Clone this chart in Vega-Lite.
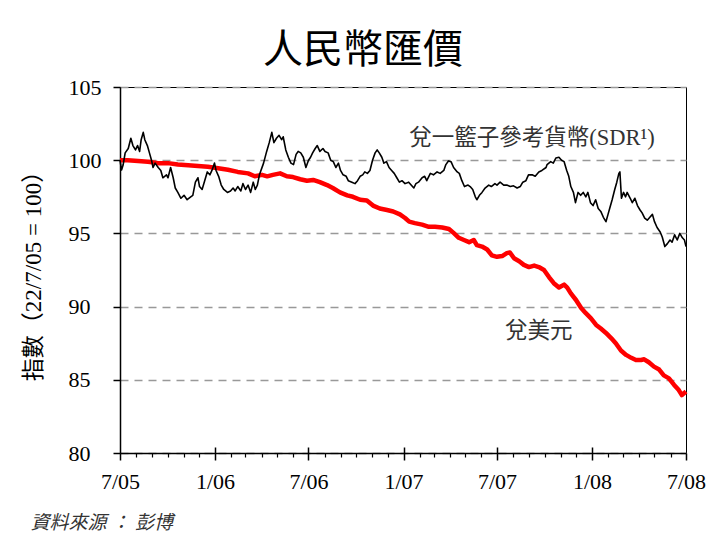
{
  "$schema": "https://vega.github.io/schema/vega-lite/v6.json",
  "autosize": {"type": "none"},
  "padding": {"left": 120, "top": 87, "right": 25, "bottom": 82},
  "width": 566,
  "height": 366,
  "background": "white",
  "title": {"text": "人民幣匯價", "font": "Noto Sans CJK TC", "fontSize": 40, "fontWeight": "normal", "color": "black", "anchor": "middle", "dx": -40, "offset": 5},
  "datasets": {
    "usd": [
      {"d":"2005-07-22","v":100.0},{"d":"2005-08-06","v":100.0},{"d":"2005-08-26","v":99.95},{"d":"2005-09-14","v":99.9},{"d":"2005-10-04","v":99.8},{"d":"2005-10-23","v":99.8},{"d":"2005-11-11","v":99.7},{"d":"2005-12-01","v":99.65},{"d":"2005-12-20","v":99.6},{"d":"2006-01-08","v":99.55},{"d":"2006-01-28","v":99.45},{"d":"2006-02-16","v":99.35},{"d":"2006-03-07","v":99.2},{"d":"2006-03-27","v":99.1},{"d":"2006-04-09","v":98.9},{"d":"2006-04-23","v":99.0},{"d":"2006-05-03","v":98.9},{"d":"2006-05-14","v":99.0},{"d":"2006-05-28","v":99.1},{"d":"2006-06-10","v":98.9},{"d":"2006-06-22","v":98.85},{"d":"2006-07-06","v":98.7},{"d":"2006-07-19","v":98.6},{"d":"2006-07-31","v":98.65},{"d":"2006-08-13","v":98.5},{"d":"2006-08-27","v":98.3},{"d":"2006-09-07","v":98.1},{"d":"2006-09-21","v":97.8},{"d":"2006-10-05","v":97.6},{"d":"2006-10-16","v":97.5},{"d":"2006-10-30","v":97.3},{"d":"2006-11-12","v":97.25},{"d":"2006-11-24","v":96.9},{"d":"2006-12-07","v":96.7},{"d":"2006-12-21","v":96.6},{"d":"2007-01-02","v":96.5},{"d":"2007-01-15","v":96.3},{"d":"2007-01-25","v":96.05},{"d":"2007-02-02","v":95.8},{"d":"2007-02-13","v":95.7},{"d":"2007-02-27","v":95.6},{"d":"2007-03-12","v":95.45},{"d":"2007-03-24","v":95.45},{"d":"2007-04-07","v":95.4},{"d":"2007-04-20","v":95.3},{"d":"2007-04-30","v":95.0},{"d":"2007-05-09","v":94.7},{"d":"2007-05-19","v":94.55},{"d":"2007-05-29","v":94.4},{"d":"2007-06-07","v":94.55},{"d":"2007-06-13","v":94.2},{"d":"2007-06-23","v":94.1},{"d":"2007-07-03","v":93.9},{"d":"2007-07-12","v":93.5},{"d":"2007-07-22","v":93.4},{"d":"2007-08-01","v":93.45},{"d":"2007-08-10","v":93.65},{"d":"2007-08-16","v":93.7},{"d":"2007-08-24","v":93.3},{"d":"2007-09-03","v":93.1},{"d":"2007-09-12","v":92.85},{"d":"2007-09-22","v":92.7},{"d":"2007-10-02","v":92.8},{"d":"2007-10-11","v":92.7},{"d":"2007-10-21","v":92.5},{"d":"2007-10-31","v":92.0},{"d":"2007-11-09","v":91.6},{"d":"2007-11-19","v":91.3},{"d":"2007-11-29","v":91.5},{"d":"2007-12-05","v":91.3},{"d":"2007-12-12","v":90.9},{"d":"2007-12-22","v":90.45},{"d":"2008-01-01","v":89.9},{"d":"2008-01-10","v":89.55},{"d":"2008-01-20","v":89.2},{"d":"2008-01-30","v":88.75},{"d":"2008-02-08","v":88.5},{"d":"2008-02-18","v":88.2},{"d":"2008-02-28","v":87.85},{"d":"2008-03-08","v":87.5},{"d":"2008-03-18","v":87.0},{"d":"2008-03-28","v":86.7},{"d":"2008-04-07","v":86.5},{"d":"2008-04-16","v":86.35},{"d":"2008-04-26","v":86.35},{"d":"2008-05-02","v":86.4},{"d":"2008-05-11","v":86.2},{"d":"2008-05-21","v":85.9},{"d":"2008-05-31","v":85.7},{"d":"2008-06-09","v":85.3},{"d":"2008-06-19","v":85.1},{"d":"2008-06-29","v":84.65},{"d":"2008-07-08","v":84.3},{"d":"2008-07-14","v":83.95},{"d":"2008-07-22","v":84.2}
    ],
    "sdr": [
      {"d":"2005-07-22","v":100.0},{"d":"2005-07-25","v":99.33},{"d":"2005-07-28","v":99.67},{"d":"2005-08-01","v":100.5},{"d":"2005-08-07","v":100.8},{"d":"2005-08-12","v":101.5},{"d":"2005-08-16","v":101.0},{"d":"2005-08-21","v":100.7},{"d":"2005-08-25","v":101.0},{"d":"2005-08-29","v":100.6},{"d":"2005-09-01","v":101.4},{"d":"2005-09-05","v":101.9},{"d":"2005-09-08","v":101.4},{"d":"2005-09-13","v":101.0},{"d":"2005-09-17","v":100.5},{"d":"2005-09-21","v":100.0},{"d":"2005-09-24","v":99.5},{"d":"2005-09-28","v":99.8},{"d":"2005-10-04","v":99.5},{"d":"2005-10-09","v":99.3},{"d":"2005-10-13","v":98.8},{"d":"2005-10-20","v":99.0},{"d":"2005-10-23","v":98.8},{"d":"2005-10-28","v":99.5},{"d":"2005-11-02","v":98.8},{"d":"2005-11-06","v":98.1},{"d":"2005-11-11","v":97.8},{"d":"2005-11-17","v":97.4},{"d":"2005-11-23","v":97.6},{"d":"2005-11-29","v":97.3},{"d":"2005-12-06","v":97.5},{"d":"2005-12-10","v":97.6},{"d":"2005-12-15","v":98.5},{"d":"2005-12-20","v":98.8},{"d":"2005-12-23","v":98.2},{"d":"2005-12-28","v":98.0},{"d":"2006-01-02","v":98.6},{"d":"2006-01-07","v":99.2},{"d":"2006-01-12","v":99.0},{"d":"2006-01-16","v":99.3},{"d":"2006-01-21","v":99.8},{"d":"2006-01-24","v":99.3},{"d":"2006-01-29","v":98.9},{"d":"2006-02-03","v":98.3},{"d":"2006-02-08","v":98.0},{"d":"2006-02-15","v":97.8},{"d":"2006-02-21","v":97.9},{"d":"2006-02-26","v":98.1},{"d":"2006-03-02","v":97.9},{"d":"2006-03-07","v":98.2},{"d":"2006-03-13","v":97.9},{"d":"2006-03-17","v":98.4},{"d":"2006-03-22","v":98.0},{"d":"2006-03-27","v":98.3},{"d":"2006-04-01","v":97.8},{"d":"2006-04-06","v":98.5},{"d":"2006-04-10","v":98.0},{"d":"2006-04-14","v":98.3},{"d":"2006-04-18","v":99.0},{"d":"2006-04-26","v":99.8},{"d":"2006-05-02","v":100.6},{"d":"2006-05-07","v":101.2},{"d":"2006-05-12","v":101.9},{"d":"2006-05-16","v":101.2},{"d":"2006-05-21","v":101.5},{"d":"2006-05-26","v":101.7},{"d":"2006-05-31","v":101.4},{"d":"2006-06-03","v":101.6},{"d":"2006-06-08","v":100.7},{"d":"2006-06-13","v":100.2},{"d":"2006-06-18","v":99.8},{"d":"2006-06-23","v":99.7},{"d":"2006-06-28","v":100.4},{"d":"2006-07-02","v":100.6},{"d":"2006-07-07","v":100.5},{"d":"2006-07-12","v":100.2},{"d":"2006-07-17","v":99.5},{"d":"2006-07-22","v":100.0},{"d":"2006-07-26","v":100.2},{"d":"2006-07-30","v":100.5},{"d":"2006-08-04","v":100.8},{"d":"2006-08-08","v":101.0},{"d":"2006-08-13","v":100.6},{"d":"2006-08-19","v":100.8},{"d":"2006-08-23","v":100.6},{"d":"2006-08-29","v":100.5},{"d":"2006-09-03","v":100.0},{"d":"2006-09-08","v":99.9},{"d":"2006-09-13","v":99.5},{"d":"2006-09-18","v":99.8},{"d":"2006-09-22","v":99.3},{"d":"2006-09-27","v":99.0},{"d":"2006-10-03","v":98.9},{"d":"2006-10-07","v":98.6},{"d":"2006-10-14","v":98.5},{"d":"2006-10-20","v":98.4},{"d":"2006-10-25","v":98.6},{"d":"2006-10-30","v":98.9},{"d":"2006-11-04","v":99.0},{"d":"2006-11-08","v":99.2},{"d":"2006-11-13","v":99.1},{"d":"2006-11-18","v":99.3},{"d":"2006-11-23","v":100.0},{"d":"2006-11-28","v":100.5},{"d":"2006-12-02","v":100.7},{"d":"2006-12-06","v":100.5},{"d":"2006-12-11","v":100.2},{"d":"2006-12-15","v":99.8},{"d":"2006-12-20","v":99.9},{"d":"2006-12-25","v":99.5},{"d":"2006-12-30","v":99.3},{"d":"2007-01-04","v":99.1},{"d":"2007-01-09","v":98.8},{"d":"2007-01-14","v":98.5},{"d":"2007-01-19","v":98.6},{"d":"2007-01-25","v":98.4},{"d":"2007-02-01","v":98.5},{"d":"2007-02-11","v":98.1},{"d":"2007-02-15","v":98.4},{"d":"2007-02-20","v":98.5},{"d":"2007-02-27","v":98.8},{"d":"2007-03-04","v":98.9},{"d":"2007-03-08","v":98.6},{"d":"2007-03-15","v":99.1},{"d":"2007-03-21","v":99.0},{"d":"2007-03-28","v":99.2},{"d":"2007-04-03","v":99.1},{"d":"2007-04-10","v":99.3},{"d":"2007-04-14","v":99.7},{"d":"2007-04-19","v":99.95},{"d":"2007-04-24","v":99.9},{"d":"2007-04-29","v":99.5},{"d":"2007-05-06","v":99.2},{"d":"2007-05-10","v":99.1},{"d":"2007-05-15","v":98.6},{"d":"2007-05-20","v":98.2},{"d":"2007-05-27","v":98.3},{"d":"2007-05-31","v":98.2},{"d":"2007-06-05","v":98.0},{"d":"2007-06-10","v":97.5},{"d":"2007-06-13","v":97.3},{"d":"2007-06-18","v":97.6},{"d":"2007-06-23","v":97.8},{"d":"2007-06-29","v":98.1},{"d":"2007-07-06","v":98.3},{"d":"2007-07-11","v":98.2},{"d":"2007-07-18","v":98.4},{"d":"2007-07-22","v":98.3},{"d":"2007-07-28","v":98.5},{"d":"2007-08-04","v":98.3},{"d":"2007-08-10","v":98.3},{"d":"2007-08-17","v":98.2},{"d":"2007-08-23","v":98.25},{"d":"2007-08-30","v":98.1},{"d":"2007-09-05","v":98.2},{"d":"2007-09-10","v":98.5},{"d":"2007-09-16","v":98.6},{"d":"2007-09-21","v":99.0},{"d":"2007-09-28","v":99.0},{"d":"2007-10-04","v":98.9},{"d":"2007-10-11","v":99.2},{"d":"2007-10-17","v":99.3},{"d":"2007-10-25","v":99.5},{"d":"2007-10-27","v":99.7},{"d":"2007-11-03","v":99.9},{"d":"2007-11-08","v":99.8},{"d":"2007-11-13","v":100.15},{"d":"2007-11-19","v":100.2},{"d":"2007-11-24","v":100.0},{"d":"2007-11-29","v":99.9},{"d":"2007-12-04","v":99.3},{"d":"2007-12-08","v":98.9},{"d":"2007-12-12","v":98.2},{"d":"2007-12-17","v":97.8},{"d":"2007-12-21","v":97.1},{"d":"2007-12-26","v":97.8},{"d":"2007-12-31","v":97.6},{"d":"2008-01-05","v":97.8},{"d":"2008-01-10","v":97.5},{"d":"2008-01-14","v":97.8},{"d":"2008-01-19","v":97.1},{"d":"2008-01-24","v":96.9},{"d":"2008-01-29","v":97.3},{"d":"2008-02-03","v":96.7},{"d":"2008-02-08","v":96.5},{"d":"2008-02-13","v":96.1},{"d":"2008-02-18","v":95.8},{"d":"2008-02-22","v":96.3},{"d":"2008-02-26","v":96.8},{"d":"2008-03-01","v":97.3},{"d":"2008-03-06","v":98.0},{"d":"2008-03-10","v":98.5},{"d":"2008-03-14","v":99.1},{"d":"2008-03-16","v":99.2},{"d":"2008-03-19","v":97.4},{"d":"2008-03-23","v":97.8},{"d":"2008-03-27","v":97.5},{"d":"2008-03-30","v":97.8},{"d":"2008-04-05","v":97.4},{"d":"2008-04-09","v":97.1},{"d":"2008-04-14","v":97.4},{"d":"2008-04-19","v":96.9},{"d":"2008-04-24","v":96.6},{"d":"2008-04-28","v":96.4},{"d":"2008-05-03","v":96.05},{"d":"2008-05-08","v":95.9},{"d":"2008-05-13","v":96.1},{"d":"2008-05-18","v":96.3},{"d":"2008-05-22","v":95.8},{"d":"2008-05-27","v":95.4},{"d":"2008-06-02","v":95.1},{"d":"2008-06-06","v":94.75},{"d":"2008-06-11","v":94.1},{"d":"2008-06-16","v":94.3},{"d":"2008-06-21","v":94.55},{"d":"2008-06-25","v":94.4},{"d":"2008-06-30","v":94.9},{"d":"2008-07-05","v":94.55},{"d":"2008-07-10","v":95.0},{"d":"2008-07-15","v":94.7},{"d":"2008-07-19","v":94.55},{"d":"2008-07-22","v":94.1}
    ],
    "labels": [
      {"d":"2007-09-28","v":101.5,"label":"兌一籃子參考貨幣(SDR¹)"},
      {"d":"2007-10-11","v":88.3,"label":"兌美元"}
    ]
  },
  "layer": [
    {
      "data": {"name": "usd"},
      "mark": {"type": "line", "color": "#ff0000", "strokeWidth": 4.5, "strokeJoin": "round"},
      "encoding": {
        "x": {
          "field": "d", "type": "temporal",
          "scale": {"type": "utc", "domain": [{"year":2005,"month":7,"date":22,"utc":true},{"year":2008,"month":7,"date":22,"utc":true}]},
          "axis": {
            "orient": "bottom",
            "values": [{"year":2005,"month":7,"date":22,"utc":true},{"year":2006,"month":1,"date":22,"utc":true},{"year":2006,"month":7,"date":22,"utc":true},{"year":2007,"month":1,"date":22,"utc":true},{"year":2007,"month":7,"date":22,"utc":true},{"year":2008,"month":1,"date":22,"utc":true},{"year":2008,"month":7,"date":22,"utc":true}],
            "format": "%-m/%y",
            "labelFontSize": 22, "labelColor": "black", "labelPadding": 11, "labelFlush": false, "labelOverlap": false, "labelBound": false,
            "tickSize": 7, "tickWidth": 1.5, "tickColor": "black",
            "domainColor": "black", "domainWidth": 1.5,
            "grid": false,
            "title": "資料來源 ： 彭博", "titleFontStyle": "italic", "titleFontSize": 19, "titleFontWeight": "normal", "titleColor": "#333333",
            "titleX": -90, "titleY": 69, "titleAlign": "left", "titleBaseline": "middle"
          }
        },
        "y": {
          "field": "v", "type": "quantitative",
          "scale": {"domain": [80, 105], "nice": false, "zero": false},
          "axis": {
            "orient": "left",
            "values": [80, 85, 90, 95, 100, 105],
            "labelFontSize": 22, "labelColor": "black", "labelAlign": "left", "labelPadding": 45, "labelBaseline": "middle", "labelFlush": false, "labelOverlap": false, "labelBound": false,
            "tickSize": 7, "tickWidth": 1.5, "tickColor": "black",
            "domainColor": "black", "domainWidth": 1.5,
            "grid": true, "gridColor": "#999999", "gridDash": [8, 6], "gridWidth": 1.5,
            "title": "指數（22/7/05 = 100）", "titleFontSize": 23, "titleFontWeight": "normal", "titleColor": "black",
            "titleX": -87, "titleY": 183, "titleAngle": -90, "titleAlign": "center", "titleBaseline": "middle"
          }
        }
      }
    },
    {
      "data": {"name": "sdr"},
      "mark": {"type": "line", "color": "black", "strokeWidth": 1.6, "strokeJoin": "round"},
      "encoding": {
        "x": {
          "field": "d", "type": "temporal",
          "axis": {
            "orient": "bottom",
            "values": [{"year":2005,"month":8,"date":22,"utc":true},{"year":2005,"month":9,"date":22,"utc":true},{"year":2005,"month":10,"date":22,"utc":true},{"year":2005,"month":11,"date":22,"utc":true},{"year":2005,"month":12,"date":22,"utc":true},{"year":2006,"month":2,"date":22,"utc":true},{"year":2006,"month":3,"date":22,"utc":true},{"year":2006,"month":4,"date":22,"utc":true},{"year":2006,"month":5,"date":22,"utc":true},{"year":2006,"month":6,"date":22,"utc":true},{"year":2006,"month":8,"date":22,"utc":true},{"year":2006,"month":9,"date":22,"utc":true},{"year":2006,"month":10,"date":22,"utc":true},{"year":2006,"month":11,"date":22,"utc":true},{"year":2006,"month":12,"date":22,"utc":true},{"year":2007,"month":2,"date":22,"utc":true},{"year":2007,"month":3,"date":22,"utc":true},{"year":2007,"month":4,"date":22,"utc":true},{"year":2007,"month":5,"date":22,"utc":true},{"year":2007,"month":6,"date":22,"utc":true},{"year":2007,"month":8,"date":22,"utc":true},{"year":2007,"month":9,"date":22,"utc":true},{"year":2007,"month":10,"date":22,"utc":true},{"year":2007,"month":11,"date":22,"utc":true},{"year":2007,"month":12,"date":22,"utc":true},{"year":2008,"month":2,"date":22,"utc":true},{"year":2008,"month":3,"date":22,"utc":true},{"year":2008,"month":4,"date":22,"utc":true},{"year":2008,"month":5,"date":22,"utc":true},{"year":2008,"month":6,"date":22,"utc":true}],
            "labels": false, "domain": false, "grid": false,
            "tickSize": 4, "tickWidth": 1.2, "tickColor": "black",
            "title": null
          }
        },
        "y": {"field": "v", "type": "quantitative"}
      }
    },
    {
      "data": {"name": "labels"},
      "mark": {"type": "text", "fontSize": 22.5, "color": "#333333", "align": "center", "baseline": "middle", "font": "Liberation Serif, Noto Sans CJK TC"},
      "encoding": {
        "x": {
          "field": "d", "type": "temporal",
          "axis": {
            "orient": "bottom",
            "values": [{"year":2006,"month":1,"date":22,"utc":true},{"year":2006,"month":7,"date":22,"utc":true},{"year":2007,"month":1,"date":22,"utc":true},{"year":2007,"month":7,"date":22,"utc":true},{"year":2008,"month":1,"date":22,"utc":true}],
            "labels": false, "domain": false, "grid": false,
            "tickSize": -6, "tickWidth": 1.5, "tickColor": "black",
            "title": null
          }
        },
        "y": {"field": "v", "type": "quantitative"},
        "text": {"field": "label"}
      }
    }
  ],
  "resolve": {"axis": {"x": "independent", "y": "shared"}},
  "config": {
    "font": "Liberation Serif, Noto Sans CJK TC",
    "view": {"stroke": "black", "strokeWidth": 1}
  }
}
